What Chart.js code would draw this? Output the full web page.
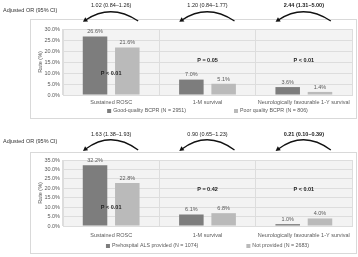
<!DOCTYPE html>
<html>
<head>
<meta charset="utf-8">
<script src="https://cdn.jsdelivr.net/npm/chart.js@4"></script>
<style>
  html, body { margin: 0; padding: 0; background: #fff; }
  #wrap { position: relative; width: 358px; height: 257px; }
  .box { position: absolute; left: 0; width: 358px; }
</style>
</head>
<body>
<div id="wrap">
  <div class="box" style="top:0;height:128px"><canvas id="bcpr"></canvas></div>
  <div class="box" style="top:128px;height:129px"><canvas id="als"></canvas></div>
</div>
<script>
// categories shared by both panels
const categories = ['Sustained ROSC', '1-M survival', 'Neurologically favourable 1-Y survival'];

// top panel: bystander CPR quality
const bcprSeries = ['Good-quality BCPR (N = 2951)', 'Poor quality BCPR (N = 806)'];
const goodBcpr = [26.6, 7.0, 3.6];
const poorBcpr = [21.6, 5.1, 1.4];
const bcprOR = ['1.02 (0.84\u20131.26)', '1.20 (0.84\u20131.77)', '2.44 (1.31\u20135.00)'];
const bcprORBold = [false, false, true];
const bcprP = ['P < 0.01', 'P = 0.05', 'P < 0.01'];
const bcprPAt = [10, 15.5, 15.5];
const bcprMax = 30;

// bottom panel: prehospital ALS
const alsSeries = ['Prehospital ALS provided (N = 1074)', 'Not provided (N = 2683)'];
const alsProvided = [32.2, 6.1, 1.0];
const alsNot = [22.8, 6.8, 4.0];
const alsOR = ['1.63 (1.38\u20131.93)', '0.90 (0.65\u20131.23)', '0.21 (0.10\u20130.39)'];
const alsORBold = [false, false, true];
const alsP = ['P < 0.01', 'P = 0.42', 'P < 0.01'];
const alsPAt = [10, 19.6, 19.6];
const alsMax = 35;

const FONT = "'Liberation Sans', Arial, sans-serif";
const DARK = '#7d7d7d';
const LIGHT = '#bababa';
const GRID = '#dddddd';

const extras = {
  id: 'extras',
  beforeDraw(chart, args, o) {
    const { ctx, chartArea: a } = chart;
    ctx.save();
    // outer frame of the panel
    ctx.strokeStyle = '#d9d9d9';
    ctx.lineWidth = 1;
    ctx.strokeRect(30.5, o.boxTop + 0.5, 326, o.boxBottom - o.boxTop);
    // plot area fill
    ctx.fillStyle = '#f3f3f3';
    ctx.fillRect(a.left, a.top, a.right - a.left, a.bottom - a.top);
    ctx.restore();
  },
  afterDatasetsDraw(chart) {
    const ctx = chart.ctx;
    ctx.save();
    ctx.font = '5.5px ' + FONT;
    ctx.fillStyle = '#595959';
    ctx.textAlign = 'center';
    ctx.textBaseline = 'bottom';
    chart.data.datasets.forEach((ds, i) => {
      chart.getDatasetMeta(i).data.forEach((bar, j) => {
        ctx.fillText(ds.data[j].toFixed(1) + '%', bar.x, bar.y - 2);
      });
    });
    ctx.restore();
  },
  afterDraw(chart, args, o) {
    const { ctx, chartArea: a } = chart;
    const xs = chart.scales.x, ys = chart.scales.y;
    ctx.save();
    ctx.textAlign = 'left';
    ctx.textBaseline = 'middle';
    ctx.fillStyle = '#333';
    ctx.font = '5.5px ' + FONT;
    ctx.fillText('Adjusted OR (95% CI)', 3, o.adjY);

    categories.forEach((c, j) => {
      const cx = xs.getPixelForValue(j);
      // odds ratio text
      ctx.textAlign = 'center';
      ctx.fillStyle = '#222';
      ctx.font = (o.orBold[j] ? 'bold ' : '') + '5.5px ' + FONT;
      ctx.fillText(o.or[j], cx, o.orY);
      // curved arrow
      const x0 = cx - 27, x1 = cx + 27, yEnd = o.arcEnd;
      const cy = 2 * o.arcPeak - yEnd;
      ctx.strokeStyle = '#111';
      ctx.lineWidth = 1.3;
      ctx.beginPath();
      ctx.moveTo(x1, yEnd);
      ctx.quadraticCurveTo(cx, cy, x0 + 1.5, yEnd - 1);
      ctx.stroke();
      let dx = x0 - cx, dy = yEnd - cy;
      const len = Math.hypot(dx, dy);
      dx /= len; dy /= len;
      const tipX = x0 + dx * 1.5, tipY = yEnd + dy * 1.5;
      ctx.fillStyle = '#111';
      ctx.beginPath();
      ctx.moveTo(tipX, tipY);
      ctx.lineTo(tipX - dx * 4.5 - dy * 2.5, tipY - dy * 4.5 + dx * 2.5);
      ctx.lineTo(tipX - dx * 4.5 + dy * 2.5, tipY - dy * 4.5 - dx * 2.5);
      ctx.closePath();
      ctx.fill();
      // p value
      ctx.font = 'bold 5.5px ' + FONT;
      ctx.fillStyle = '#222';
      ctx.fillText(o.p[j], cx, ys.getPixelForValue(o.pAt[j]));
    });

    // legend
    ctx.font = '5.3px ' + FONT;
    const items = chart.data.datasets.map(ds => ({ text: ds.label, color: ds.backgroundColor, w: 6 + ctx.measureText(ds.label).width }));
    const gap = 48;
    const total = items.reduce((s, it) => s + it.w, 0) + gap * (items.length - 1);
    let x = (a.left + a.right) / 2 - total / 2;
    ctx.textAlign = 'left';
    items.forEach(it => {
      ctx.fillStyle = it.color;
      ctx.fillRect(x, o.legendY - 2, 4, 4);
      ctx.fillStyle = '#595959';
      ctx.fillText(it.text, x + 6, o.legendY);
      x += it.w + gap;
    });
    ctx.restore();
  }
};

function makeChart(id, series, a, b, max, cfg) {
  const xH = 12;
  return new Chart(document.getElementById(id), {
    type: 'bar',
    data: {
      labels: categories,
      datasets: [
        { label: series[0], data: a, backgroundColor: DARK, categoryPercentage: 0.67, barPercentage: 0.76 },
        { label: series[1], data: b, backgroundColor: LIGHT, categoryPercentage: 0.67, barPercentage: 0.76 }
      ]
    },
    options: {
      responsive: true,
      maintainAspectRatio: false,
      animation: false,
      layout: { padding: { left: 30, right: 6, top: cfg.top, bottom: cfg.height - cfg.bottom - xH } },
      plugins: {
        legend: { display: false },
        tooltip: { enabled: false },
        extras: cfg
      },
      scales: {
        x: {
          grid: { color: GRID, drawTicks: false, offset: true },
          border: { color: GRID },
          ticks: { color: '#595959', font: { size: 5.5, family: FONT }, padding: cfg.tickPad, maxRotation: 0, autoSkip: false },
          afterFit(s) { s.height = xH; }
        },
        y: {
          min: 0,
          max: max,
          grid: { color: GRID, drawTicks: false },
          border: { color: GRID },
          ticks: { stepSize: 5, autoSkip: false, color: '#595959', font: { size: 5.5, family: FONT }, padding: 3, callback: v => v.toFixed(1) + '%' },
          title: { display: true, text: 'Rate (%)', color: '#595959', font: { size: 5.5, family: FONT }, padding: { top: 7, bottom: 0 } },
          afterFit(s) { s.width = 33; }
        }
      }
    },
    plugins: [extras]
  });
}

makeChart('bcpr', bcprSeries, goodBcpr, poorBcpr, bcprMax, {
  height: 128, top: 29, bottom: 95, tickPad: 4, legendY: 111, boxTop: 19, boxBottom: 118,
  adjY: 10, orY: 5, arcPeak: 12, arcEnd: 21,
  or: bcprOR, orBold: bcprORBold, p: bcprP, pAt: bcprPAt
});

makeChart('als', alsSeries, alsProvided, alsNot, alsMax, {
  height: 129, top: 32, bottom: 98, tickPad: 6, legendY: 118, boxTop: 24, boxBottom: 125,
  adjY: 13, orY: 6, arcPeak: 12, arcEnd: 22,
  or: alsOR, orBold: alsORBold, p: alsP, pAt: alsPAt
});
</script>
</body>
</html>
